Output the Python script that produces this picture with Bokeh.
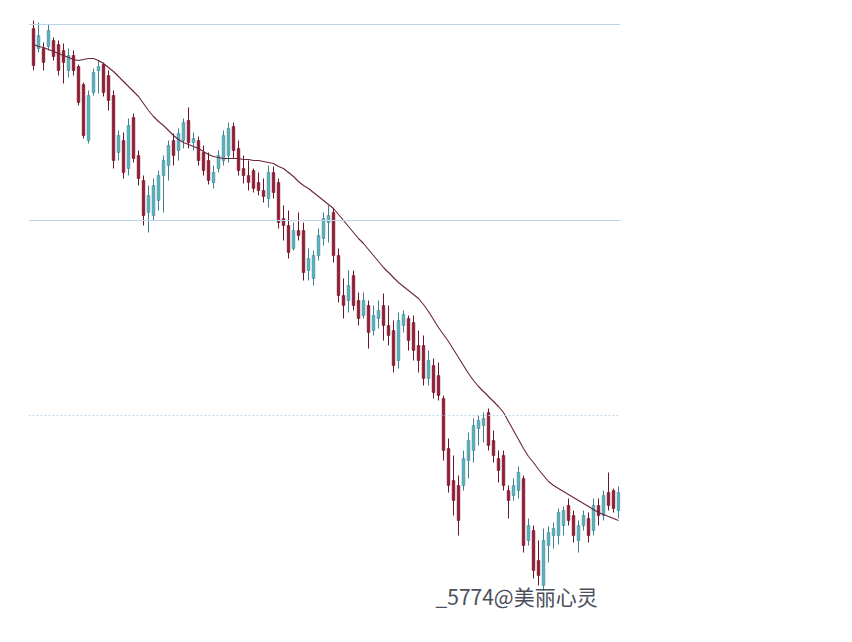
from bokeh.plotting import figure
from bokeh.models import ColumnDataSource, Range1d, Span, Label
from bokeh.embed import file_html
from bokeh.resources import INLINE

# ---- data ----
opens = [3596, 3576, 3576, 3578, 3584, 3580, 3574, 3554, 3569, 3558,
         3540, 3484, 3532, 3554, 3560, 3549, 3529, 3472, 3484, 3456,
         3507, 3469, 3444, 3412, 3409, 3424, 3449, 3459, 3484, 3474,
         3484, 3504, 3482, 3484, 3472, 3464, 3442, 3456, 3464, 3469,
         3498, 3476, 3456, 3449, 3454, 3442, 3434, 3426, 3452, 3442,
         3406, 3399, 3376, 3394, 3394, 3354, 3346, 3369, 3386, 3402,
         3412, 3369, 3329, 3324, 3349, 3324, 3309, 3319, 3294, 3306,
         3319, 3299, 3294, 3264, 3299, 3306, 3302, 3279, 3279, 3246,
         3259, 3249, 3226, 3176, 3144, 3139, 3139, 3164, 3174, 3196,
         3199, 3212, 3184, 3166, 3169, 3134, 3129, 3134, 3146, 3084,
         3094, 3064, 3039, 3079, 3089, 3089, 3099, 3119, 3109, 3084,
         3099, 3106, 3094, 3119, 3109, 3132, 3134, 3114]
highs = [3604, 3602, 3582, 3600, 3587, 3584, 3581, 3576, 3574, 3560,
         3542, 3534, 3556, 3564, 3562, 3554, 3534, 3494, 3492, 3506,
         3511, 3474, 3449, 3439, 3446, 3454, 3469, 3484, 3491, 3496,
         3506, 3517, 3492, 3488, 3479, 3472, 3459, 3474, 3494, 3502,
         3502, 3484, 3469, 3464, 3456, 3452, 3446, 3459, 3458, 3446,
         3419, 3414, 3402, 3412, 3402, 3376, 3374, 3396, 3412, 3419,
         3416, 3376, 3346, 3354, 3354, 3332, 3332, 3324, 3319, 3324,
         3331, 3319, 3304, 3312, 3314, 3309, 3309, 3294, 3289, 3274,
         3266, 3262, 3229, 3186, 3169, 3149, 3174, 3192, 3206, 3209,
         3212, 3216, 3194, 3174, 3174, 3139, 3146, 3158, 3149, 3106,
         3099, 3084, 3096, 3098, 3102, 3116, 3118, 3126, 3114, 3104,
         3114, 3112, 3126, 3126, 3134, 3152, 3136, 3138]
lows = [3554, 3572, 3554, 3574, 3564, 3549, 3541, 3547, 3549, 3519,
        3486, 3481, 3529, 3531, 3528, 3514, 3456, 3464, 3446, 3449,
        3462, 3439, 3399, 3392, 3404, 3414, 3412, 3444, 3459, 3464,
        3476, 3476, 3474, 3459, 3449, 3440, 3436, 3452, 3459, 3462,
        3466, 3449, 3441, 3434, 3432, 3429, 3422, 3417, 3426, 3396,
        3384, 3366, 3374, 3384, 3344, 3344, 3339, 3364, 3379, 3382,
        3362, 3322, 3306, 3312, 3314, 3299, 3306, 3276, 3289, 3296,
        3284, 3279, 3252, 3256, 3292, 3274, 3264, 3252, 3239, 3239,
        3226, 3224, 3164, 3132, 3109, 3089, 3134, 3146, 3162, 3179,
        3182, 3174, 3162, 3142, 3134, 3106, 3124, 3126, 3072, 3079,
        3046, 3039, 3034, 3062, 3076, 3080, 3089, 3099, 3082, 3072,
        3094, 3082, 3089, 3099, 3104, 3114, 3112, 3106]
closes = [3559, 3589, 3562, 3594, 3568, 3554, 3562, 3569, 3554, 3522,
          3489, 3529, 3552, 3558, 3532, 3524, 3464, 3489, 3452, 3499,
          3466, 3446, 3409, 3429, 3439, 3449, 3464, 3479, 3469, 3491,
          3502, 3482, 3486, 3464, 3454, 3444, 3452, 3469, 3489, 3496,
          3474, 3454, 3449, 3442, 3436, 3434, 3428, 3452, 3432, 3402,
          3399, 3372, 3394, 3389, 3352, 3366, 3369, 3389, 3406, 3409,
          3369, 3329, 3319, 3339, 3319, 3306, 3324, 3292, 3309, 3314,
          3299, 3289, 3259, 3304, 3310, 3284, 3274, 3264, 3246, 3264,
          3232, 3229, 3174, 3139, 3124, 3104, 3166, 3184, 3199, 3204,
          3206, 3179, 3169, 3154, 3139, 3124, 3139, 3152, 3079, 3099,
          3054, 3049, 3084, 3092, 3096, 3112, 3114, 3104, 3089, 3099,
          3109, 3089, 3119, 3109, 3129, 3119, 3116, 3132]
ma = [3580, 3578, 3577, 3575, 3573, 3571, 3569, 3567, 3565, 3564,
      3565, 3566, 3566, 3564, 3561, 3557, 3553, 3548, 3543, 3538,
      3533, 3528, 3521, 3514, 3508, 3503, 3499, 3494, 3489, 3485,
      3482, 3480, 3478, 3476, 3473, 3470, 3468, 3467, 3466, 3466,
      3466, 3466, 3465, 3465, 3464, 3464, 3463, 3462, 3461, 3458,
      3456, 3452, 3448, 3443, 3439, 3436, 3432, 3428, 3424, 3420,
      3416, 3410, 3404, 3398, 3392, 3386, 3381, 3375, 3369, 3363,
      3357, 3352, 3347, 3342, 3338, 3334, 3330, 3326, 3320, 3313,
      3305, 3297, 3290, 3283, 3275, 3267, 3259, 3251, 3244, 3238,
      3233, 3228, 3223, 3218, 3212, 3203, 3194, 3185, 3176, 3168,
      3162, 3155, 3149, 3143, 3139, 3136, 3133, 3130, 3127, 3124,
      3121, 3118, 3115, 3112, 3110, 3108, 3106, 3104]
grid_levels = [3600, 3404, 3209]
watermark = "_5774@美丽心灵"

n = min(len(opens), len(highs), len(lows), len(closes), len(ma))
idx = list(range(n))

UP_BODY, UP_WICK = "#55b4b9", "#3f7f94"
DN_BODY, DN_WICK = "#961d36", "#6a1628"

up = [closes[i] >= opens[i] for i in idx]
src = ColumnDataSource(dict(
    x=idx,
    high=highs[:n], low=lows[:n],
    top=[max(opens[i], closes[i]) for i in idx],
    bottom=[min(opens[i], closes[i]) for i in idx],
    body=[UP_BODY if u else DN_BODY for u in up],
    wick=[UP_WICK if u else DN_WICK for u in up],
))
ma_src = ColumnDataSource(dict(x=idx, ma=ma[:n]))

p = figure(width=836, height=626, output_backend="svg", toolbar_location=None,
           x_axis_location=None, y_axis_location=None,
           x_range=Range1d(-1.0, 117.4), y_range=Range1d(3004, 3614),
           min_border_left=28, min_border_right=216,
           min_border_top=10, min_border_bottom=6)
p.grid.visible = False
p.outline_line_color = None
p.background_fill_color = "white"
p.border_fill_color = "white"

for k, lvl in enumerate(grid_levels):
    p.add_layout(Span(location=lvl, dimension="width", line_color="#bcd6e6",
                      line_width=1, line_dash="2 2" if k == 2 else "solid"))

p.segment(x0="x", y0="high", x1="x", y1="low", source=src,
          line_color="wick", line_width=1)
p.vbar(x="x", top="top", bottom="bottom", width=0.55, source=src,
       fill_color="body", line_color="wick", line_width=0.5)
p.line(x="x", y="ma", source=ma_src, line_color="#6b2338", line_width=1.1)

p.add_layout(Label(x=80.4, y=3029, text=watermark, text_font="Noto Sans CJK SC",
                   text_font_size="21px", text_color="#4a4f5c",
                   text_baseline="middle", text_align="left"))

open("out.html", "w").write(file_html(p, INLINE))
